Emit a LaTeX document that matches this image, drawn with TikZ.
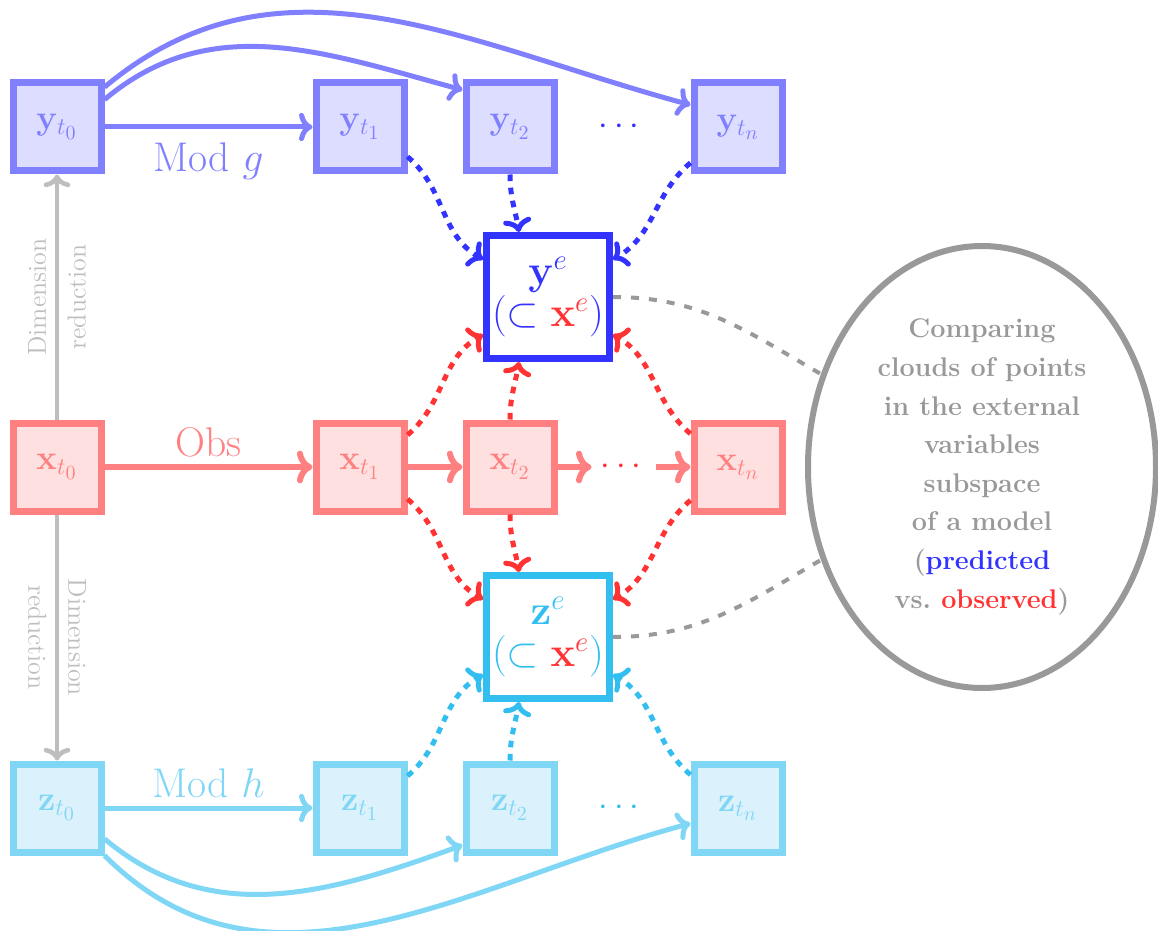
\documentclass[tikz,border=0pt]{standalone}
\usepackage{amsmath,amssymb}
\usetikzlibrary{shapes.geometric,arrows.meta}
\definecolor{ydark}{RGB}{51,51,255}
\definecolor{ylight}{RGB}{128,128,255}
\definecolor{yfill}{RGB}{221,221,255}
\definecolor{xdark}{RGB}{255,51,51}
\definecolor{xlight}{RGB}{255,128,128}
\definecolor{xfill}{RGB}{255,224,224}
\definecolor{zdark}{RGB}{51,190,240}
\definecolor{zlight}{RGB}{128,214,245}
\definecolor{zfill}{RGB}{219,241,252}
\definecolor{ellgray}{RGB}{153,153,153}
\definecolor{dimgray}{RGB}{190,190,190}
\tikzset{
  tip/.style={-{Computer Modern Rightarrow[scale=0.95]}},
  smallbox/.style={draw, line width=3.5pt, minimum size=44pt, inner sep=0pt, font=\LARGE},
  ybox/.style={smallbox, draw=ylight, fill=yfill, text=ylight},
  xbox/.style={smallbox, draw=xlight, fill=xfill, text=xlight},
  zbox/.style={smallbox, draw=zlight, fill=zfill, text=zlight},
  bigbox/.style={draw, line width=3.5pt, fill=white, minimum size=61.5pt, inner sep=0pt, font=\fontsize{19.5}{21}\selectfont, align=center},
  dotsnode/.style={font=\LARGE, inner xsep=4.5pt, inner ysep=0pt},
  yarrow/.style={tip, draw=ylight, line width=2.5pt},
  xarrow/.style={tip, draw=xlight, line width=3pt},
  zarrow/.style={tip, draw=zlight, line width=2.5pt},
  dasharrow/.style={tip, line width=2.5pt, dash pattern=on 3.3pt off 3.3pt},
  ydash/.style={dasharrow, draw=ydark},
  xdash/.style={dasharrow, draw=xdark},
  zdash/.style={dasharrow, draw=zdark},
  graydash/.style={draw=ellgray, line width=2pt, dash pattern=on 4pt off 5pt},
  dimarrow/.style={tip, draw=dimgray, line width=2.3pt},
  dimlabel/.style={midway, align=center, text=dimgray, font=\fontsize{13}{20}\selectfont},
  modlabel/.style={midway, anchor=base, font=\huge, inner sep=0pt},
}
\begin{document}
\begin{tikzpicture}[x=0.5pt,y=0.5pt]
\useasboundingbox (0,0) rectangle (1158,-931);

% y row
\node[ybox] (yt0) at (57,-127) {$\mathbf{y}_{t_0}$};
\node[ybox] (yt1) at (360,-127) {$\mathbf{y}_{t_1}$};
\node[ybox] (yt2) at (510,-127) {$\mathbf{y}_{t_2}$};
\node[dotsnode, text=ydark] (ydots) at (622,-127) {$\cdots$};
\node[ybox] (ytn) at (738,-127) {$\mathbf{y}_{t_n}$};

% x row
\node[xbox] (xt0) at (57,-467) {$\mathbf{x}_{t_0}$};
\node[xbox] (xt1) at (360,-467) {$\mathbf{x}_{t_1}$};
\node[xbox] (xt2) at (510,-467) {$\mathbf{x}_{t_2}$};
\node[dotsnode, text=xdark] (xdots) at (624,-467) {$\cdots$};
\node[xbox] (xtn) at (738,-467) {$\mathbf{x}_{t_n}$};

% z row
\node[zbox] (zt0) at (57,-808) {$\mathbf{z}_{t_0}$};
\node[zbox] (zt1) at (360,-808) {$\mathbf{z}_{t_1}$};
\node[zbox] (zt2) at (510,-808) {$\mathbf{z}_{t_2}$};
\node[dotsnode, text=zdark] (zdots) at (622,-808) {$\cdots$};
\node[zbox] (ztn) at (738,-808) {$\mathbf{z}_{t_n}$};

% big boxes
\node[bigbox, draw=ydark, text=ydark] (ye) at (548,-297) {$\mathbf{y}^{e}$\\$(\subset \textcolor{xdark}{\mathbf{x}^{e}})$};
\node[bigbox, draw=zdark, text=zdark] (ze) at (548,-637) {$\mathbf{z}^{e}$\\$(\subset \textcolor{xdark}{\mathbf{x}^{e}})$};

% ellipse
\node[ellipse, draw=ellgray, line width=3pt, minimum width=174pt, minimum height=221pt,
      inner sep=0pt, align=center, text=ellgray, font=\bfseries\fontsize{13.5}{19.3}\selectfont] (ell) at (982,-467)
  {Comparing\\clouds of points\\in the external\\variables\\subspace\\of a model\\(\textcolor{ydark}{predicted}\\vs.\ \textcolor{xdark}{observed})};

% solid arrows
\draw[yarrow] (yt0.east) -- node[modlabel, yshift=-22.5pt, text=ylight] {Mod $g$} (yt1.west);
\draw[yarrow] (yt0.40) to[out=40,in=165] (ytn.155);
\draw[yarrow] (yt0.30) to[out=40,in=165] (yt2.142);

\draw[xarrow] (xt0.east) -- node[modlabel, yshift=5.5pt, text=xlight] {Obs} (xt1.west);
\draw[xarrow] (xt1.east) -- (xt2.west);
\draw[xarrow] (xt2.east) -- (xdots.west);
\draw[xarrow] (xdots.east) -- (xtn.west);

\draw[zarrow] (zt0.east) -- node[modlabel, yshift=5.5pt, text=zlight] {Mod $h$} (zt1.west);
\draw[zarrow] (zt0.-45) to[out=-45,in=-165] (ztn.-162);
\draw[zarrow] (zt0.-33) to[out=-40,in=-160] (zt2.-142);

% dimension reduction
\draw[dimarrow] (xt0.north) -- node[dimlabel, rotate=90] {Dimension\\reduction} (yt0.south);
\draw[dimarrow] (xt0.south) -- node[dimlabel, rotate=-90] {Dimension\\reduction} (zt0.north);

% dashed arrows into ye
\draw[ydash] (yt1.-32) to[out=-40,in=150] (ye.150);
\draw[ydash] (yt2.south) to[out=-90,in=100] (ye.114);
\draw[ydash] (ytn.-143) to[out=-140,in=30] (ye.30);
\draw[xdash] (xt1.34) to[out=40,in=-150] (ye.-150);
\draw[xdash] (xt2.north) to[out=90,in=-100] (ye.-114);
\draw[xdash] (xtn.145) to[out=140,in=-30] (ye.-30);
% dashed arrows into ze
\draw[xdash] (xt1.-34) to[out=-40,in=150] (ze.150);
\draw[xdash] (xt2.south) to[out=-90,in=100] (ze.114);
\draw[xdash] (xtn.-145) to[out=-140,in=30] (ze.30);
\draw[zdash] (zt1.34) to[out=40,in=-150] (ze.-150);
\draw[zdash] (zt2.north) to[out=90,in=-100] (ze.-114);
\draw[zdash] (ztn.145) to[out=140,in=-30] (ze.-30);

% gray links to ellipse
\draw[graydash] (ye.east) to[out=0,in=150] (ell.150);
\draw[graydash] (ze.east) to[out=0,in=-150] (ell.-150);
\end{tikzpicture}
\end{document}
